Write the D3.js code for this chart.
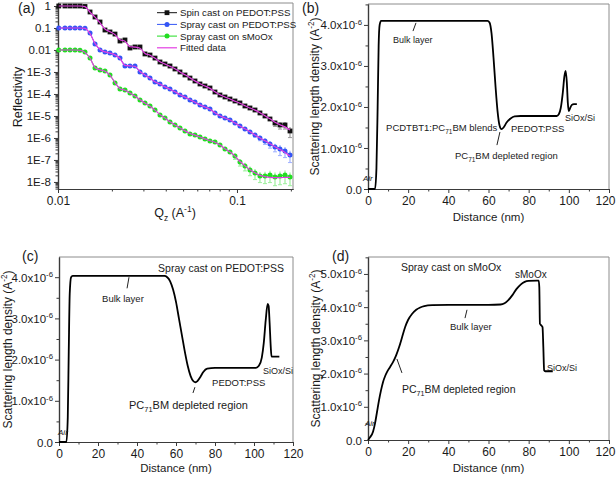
<!DOCTYPE html>
<html><head><meta charset="utf-8">
<script src="https://cdn.jsdelivr.net/npm/d3@7"></script>
<style>
body{margin:0;background:#fff}
svg{display:block}
text{font-family:"Liberation Sans",Arial,Helvetica,sans-serif;fill:#1a1a1a}
</style>
</head><body>
<svg id="fig" width="616" height="477"></svg>
<script>
// ---------------- DATA: panel (a) reflectivity ----------------
const qz = [0.0101,0.01094,0.01167,0.01245,0.01327,0.01415,0.01510,0.01610,0.01717,0.01830,0.01952,0.02082,0.02220,0.02367,0.02525,0.02692,0.02871,0.03062,0.03266,0.03483,0.03714,0.03961,0.04224,0.04504,0.04804,0.05123,0.05463,0.05826,0.06213,0.06625,0.07066,0.07535,0.08035,0.08570,0.09140,0.09746,0.1039,0.1108,0.1182,0.1261,0.1344,0.1434,0.1529,0.1631,0.1739,0.1855,0.1978];
const spinPEDOT = [1,1,1,1,1,0.95,0.534,0.316,0.187,0.081,0.066,0.053,0.0256,0.0285,0.0123,0.0137,0.0137,0.0066,0.0059,0.0043,0.00285,0.00231,0.00187,0.00137,0.001,7.3e-4,5.3e-4,3.9e-4,2.85e-4,2.31e-4,1.87e-4,1.23e-4,9.0e-5,7.3e-5,5.9e-5,4.8e-5,3.9e-5,2.85e-5,2.31e-5,1.87e-5,1.37e-5,1.0e-5,7.3e-6,4.8e-6,3.9e-6,3.9e-6,2.08e-6];
const sprayPEDOT = [0.1,0.1,0.1,0.1,0.1,0.098,0.059,0.0187,0.01,0.0081,0.0073,0.0059,0.0043,0.00187,0.00187,0.00187,0.001,7.3e-4,5.3e-4,3.5e-4,2.85e-4,2.08e-4,1.69e-4,1.23e-4,9.0e-5,7.3e-5,5.3e-5,4.3e-5,3.16e-5,2.56e-5,2.08e-5,1.37e-5,1.0e-5,8.1e-6,6.6e-6,4.8e-6,3.5e-6,2.56e-6,1.87e-6,1.37e-6,1.0e-6,7.3e-7,5.3e-7,3.9e-7,3.16e-7,2.56e-7,1.69e-7];
const spraySMoOx = [0.01,0.01,0.01,0.01,0.0098,0.0081,0.0043,0.00152,0.00123,0.00111,7.3e-4,3.16e-4,1.69e-4,1.52e-4,1.11e-4,8.1e-5,5.3e-5,3.9e-5,2.85e-5,1.87e-5,1.11e-5,8.1e-6,5.3e-6,3.9e-6,2.85e-6,2.08e-6,1.52e-6,1.37e-6,1.11e-6,9.0e-7,7.3e-7,6.6e-7,4.8e-7,3.16e-7,2.31e-7,1.52e-7,8.1e-8,5.3e-8,3.5e-8,2.56e-8,1.87e-8,1.87e-8,2.08e-8,1.69e-8,1.87e-8,2.08e-8,1.69e-8];
const fitSpin = [1,1,1,1,1,0.93,0.52,0.31,0.17,0.09,0.068,0.05,0.029,0.025,0.014,0.0135,0.012,0.007,0.0058,0.0042,0.0029,0.0023,0.0018,0.0014,0.001,7.4e-4,5.4e-4,3.9e-4,2.9e-4,2.3e-4,1.8e-4,1.25e-4,9.2e-5,7.3e-5,5.9e-5,4.7e-5,3.8e-5,2.9e-5,2.3e-5,1.85e-5,1.4e-5,1.02e-5,7.4e-6,5.2e-6,4.0e-6,3.2e-6,2.3e-6];
const fitSprayP = [0.1,0.1,0.1,0.1,0.1,0.096,0.055,0.02,0.0105,0.0082,0.0072,0.006,0.0041,0.002,0.0019,0.0018,0.00105,7.3e-4,5.2e-4,3.6e-4,2.8e-4,2.1e-4,1.65e-4,1.25e-4,9.2e-5,7.2e-5,5.5e-5,4.2e-5,3.2e-5,2.55e-5,2.0e-5,1.4e-5,1.02e-5,8.1e-6,6.5e-6,4.8e-6,3.5e-6,2.6e-6,1.9e-6,1.38e-6,1.0e-6,7.4e-7,5.4e-7,4.0e-7,3.0e-7,2.2e-7,1.5e-7];
const fitSprayM = [0.01,0.01,0.01,0.01,0.0097,0.0078,0.0042,0.0016,0.00125,0.00108,7.2e-4,3.3e-4,1.75e-4,1.48e-4,1.1e-4,8.0e-5,5.4e-5,3.9e-5,2.8e-5,1.85e-5,1.15e-5,8.0e-6,5.4e-6,3.9e-6,2.85e-6,2.1e-6,1.6e-6,1.35e-6,1.1e-6,9.1e-7,7.5e-7,6.4e-7,4.8e-7,3.2e-7,2.3e-7,1.5e-7,8.5e-8,5.5e-8,3.6e-8,2.6e-8,2.0e-8,1.75e-8,1.62e-8,1.58e-8,1.58e-8,1.6e-8,1.62e-8];
// relative error bars on the last points of each series
const spinErrTail = [0.3,0.35,0.35,0.5];
const sprayPErrTail = [0.2,0.25,0.3,0.35,0.4,0.5,0.5,0.55];
const sprayMErrTail = [0.3,0.35,0.4,0.45,0.5,0.5,0.55,0.55,0.6,0.6,0.6,0.6];
const legendA = ["Spin cast on PEDOT:PSS","Spray cast on PEDOT:PSS","Spray cast on sMoOx","Fitted data"];
const yTicksA = [1,0.1,0.01,1e-3,1e-4,1e-5,1e-6,1e-7,1e-8];
const yTickLabelsA = ["1","0.1","0.01","1E-3","1E-4","1E-5","1E-6","1E-7","1E-8"];
const xTicksA = [0.01,0.1];
const xTickLabelsA = ["0.01","0.1"];

// ---------------- DATA: SLD profiles (units of 1e-6 A^-2) ----------------
const distB = [0,3.5,4.2,4.8,5.3,5.8,6.5,20,40,59.5,60.5,61.5,62.5,63.5,64.5,65.5,66.5,67.5,69,71,73,76,85,94,95,96,97,97.8,98.4,99,99.5,100,100.7,101.5,102.5,104];
const sldB  = [0,0,0.5,2.0,3.5,4.0,4.1,4.1,4.1,4.1,4.06,3.8,3.2,2.5,1.9,1.55,1.46,1.5,1.62,1.72,1.77,1.78,1.78,1.78,1.82,1.98,2.35,2.75,2.88,2.6,2.1,1.9,1.98,2.05,2.07,2.07];
const distC = [0,3.8,4.5,5.0,5.5,6.2,7,30,54,55.5,57,58.5,60,61.5,63,64.5,66,67.5,69,70,71,72.5,74,76,80,90,101,102.5,104,105,106,107,107.5,108,108.6,109,110,113];
const sldC  = [0,0,0.6,2.2,3.6,4.0,4.03,4.03,4.03,4.0,3.9,3.7,3.4,3.0,2.6,2.2,1.85,1.6,1.47,1.45,1.48,1.58,1.7,1.78,1.8,1.8,1.8,1.85,2.05,2.4,2.95,3.35,3.3,2.9,2.3,2.07,2.07,2.07];
const distD = [0,1,2.5,3.5,4.5,5.5,6.5,7.5,8.5,9.5,11,12.5,14,15.5,17,18.5,20,22,24,26,28,32,40,50,60,66,68,70,72,74,76,78,80,84,85,85.3,85.6,86.3,86.9,87.3,87.7,88.2,92];
const sldD  = [0,0.08,0.25,0.5,0.85,1.2,1.5,1.75,1.92,2.05,2.2,2.35,2.55,2.8,3.1,3.4,3.62,3.8,3.92,3.99,4.03,4.06,4.07,4.07,4.07,4.08,4.12,4.22,4.37,4.55,4.68,4.76,4.79,4.8,4.8,4.6,3.5,3.45,3.4,2.8,2.1,2.07,2.07];
const xTicksSLD = [0,20,40,60,80,100,120];

// ---------------- helpers ----------------
const svg = d3.select("#fig");
const AX = "#3a3a3a", FR = "#8c8c8c";

function rich(sel, parts, fs){
  let cur = 0;
  parts.forEach(p => {
    const t = typeof p === "string" ? [p,""] : p;
    const target = t[1]==="sup" ? -fs*0.42 : t[1]==="sub" ? fs*0.28 : 0;
    const ts = sel.append("tspan").text(t[0]);
    if (target !== cur) ts.attr("dy", target - cur);
    if (t[1]) ts.attr("font-size", fs*0.68);
    cur = target;
  });
  return sel;
}
function label(g, x, y, parts, fs, opts={}){
  const t = g.append("text").attr("x",x).attr("y",y).attr("font-size",fs)
    .attr("text-anchor", opts.anchor||"start");
  if (opts.rotate) t.attr("transform",`rotate(-90,${x},${y})`);
  if (opts.style) t.attr("font-style",opts.style);
  return rich(t, parts, fs);
}
function frame(g, x, y){
  const [x0,x1] = x.range(), [y0,y1] = y.range();
  g.append("line").attr("x1",x0).attr("x2",x1).attr("y1",y1).attr("y2",y1).attr("stroke",FR).attr("stroke-width",1);
  g.append("line").attr("x1",x1).attr("x2",x1).attr("y1",y1).attr("y2",y0).attr("stroke",FR).attr("stroke-width",1);
}
function styleAxis(sel, fs){
  sel.select(".domain").attr("stroke",AX).attr("stroke-width",1.2);
  sel.selectAll(".tick line").attr("stroke",AX);
  sel.selectAll(".tick text").attr("font-size",fs).attr("fill","#1a1a1a")
     .attr("font-family",'"Liberation Sans",Arial,sans-serif');
}

// ================= PANEL (a) =================
(function(){
  const g = svg.append("g");
  const x = d3.scaleLog().domain([0.01, 0.2056]).range([58, 293]);
  const y = d3.scaleLog().domain([Math.pow(10,-8.32), Math.pow(10,0.136)]).range([189, 3]);
  frame(g, x, y);
  const minorX = [];
  [0.01,0.1].forEach(d => { for (let k=2;k<=9;k++){ const v=d*k; if (v<=0.2056) minorX.push(v);} });
  g.append("g").attr("transform","translate(0,189)")
    .call(d3.axisBottom(x).tickValues(minorX).tickSize(2.5).tickSizeOuter(0).tickFormat(""))
    .call(s=>styleAxis(s,12));
  const minorY = [];
  for (let e=-9;e<=0;e++){ for (let k=2;k<=9;k++){ const v=k*Math.pow(10,e); if (v>=Math.pow(10,-8.32) && v<=1) minorY.push(v);} }
  g.append("g").attr("transform","translate(58,0)")
    .call(d3.axisLeft(y).tickValues(minorY).tickSize(2.5).tickSizeOuter(0).tickFormat(""))
    .call(s=>styleAxis(s,12));
  g.append("g").attr("transform","translate(0,189)")
    .call(d3.axisBottom(x).tickValues(xTicksA).tickSize(4).tickSizeOuter(0)
      .tickFormat((d,i)=>xTickLabelsA[i]))
    .call(s=>styleAxis(s,12));
  g.append("g").attr("transform","translate(58,0)")
    .call(d3.axisLeft(y).tickValues(yTicksA).tickSize(4).tickSizeOuter(0)
      .tickFormat((d,i)=>yTickLabelsA[i]))
    .call(s=>styleAxis(s,11.5));

  const series = [
    {v: spraySMoOx, fit: fitSprayM, err: sprayMErrTail, c:"#22dd22", ec:"#9cf09c", m:"circle"},
    {v: sprayPEDOT, fit: fitSprayP, err: sprayPErrTail, c:"#3355f5", ec:"#9fb0ff", m:"circle"},
    {v: spinPEDOT,  fit: fitSpin,   err: spinErrTail,   c:"#111111", ec:"#9a9a9a", m:"square"}
  ];
  const line = d3.line().x(d=>x(d[0])).y(d=>y(d[1]));
  series.forEach(s => {
    const pts = qz.map((q,i)=>[q, s.v[i]]);
    const n0 = pts.length - s.err.length;
    s.err.forEach((e,j) => {
      const p = pts[n0+j];
      g.append("line").attr("x1",x(p[0])).attr("x2",x(p[0]))
        .attr("y1",y(p[1]*(1+e))).attr("y2",y(p[1]*(1-e)))
        .attr("stroke",s.ec).attr("stroke-width",1.2);
      g.append("line").attr("x1",x(p[0])-2).attr("x2",x(p[0])+2)
        .attr("y1",y(p[1]*(1-e))).attr("y2",y(p[1]*(1-e))).attr("stroke",s.ec);
    });
    g.append("path").datum(pts).attr("d",line).attr("fill","none").attr("stroke",s.c).attr("stroke-width",1);
    if (s.m==="square"){
      g.selectAll(null).data(pts).join("rect")
        .attr("x",d=>x(d[0])-2.4).attr("y",d=>y(d[1])-2.4).attr("width",4.8).attr("height",4.8).attr("fill",s.c);
    } else {
      g.selectAll(null).data(pts).join("circle")
        .attr("cx",d=>x(d[0])).attr("cy",d=>y(d[1])).attr("r",2.5).attr("fill",s.c);
    }
  });
  const fitLine = d3.line().x(d=>x(d[0])).y(d=>y(d[1])).curve(d3.curveMonotoneX);
  series.forEach(s => {
    g.append("path").datum(qz.map((q,i)=>[q,s.fit[i]])).attr("d",fitLine)
      .attr("fill","none").attr("stroke","#e23ee2").attr("stroke-width",1.2);
  });
  const lg = [{c:"#111",m:"square"},{c:"#3355f5",m:"circle"},{c:"#22dd22",m:"circle"},{c:"#e23ee2",m:null}];
  const ly0 = 12.7, ldy = 11.7;
  lg.forEach((l,i)=>{
    const yy = ly0 + i*ldy;
    g.append("line").attr("x1",157).attr("x2",177).attr("y1",yy).attr("y2",yy)
      .attr("stroke",l.c).attr("stroke-width",i===3?1.2:1);
    if (l.m==="square") g.append("rect").attr("x",164.6).attr("y",yy-2.4).attr("width",4.8).attr("height",4.8).attr("fill",l.c);
    if (l.m==="circle") g.append("circle").attr("cx",167).attr("cy",yy).attr("r",2.5).attr("fill",l.c);
    label(g, 180, yy+3.4, [legendA[i]], 9.7);
  });
  label(g, 18, 12.5, ["(a)"], 14);
  label(g, 22, 97, ["Reflectivity"], 12.5, {anchor:"middle", rotate:true});
  label(g, 175, 217, [["Q",""],["z","sub"],[" (A",""],["-1","sup"],[")",""]], 12.5, {anchor:"middle"});
})();

// ================= SLD panels =================
function sldPanel(cfg){
  const g = svg.append("g");
  const x = d3.scaleLinear().domain([0,120]).range([cfg.left, cfg.right]);
  const y = d3.scaleLinear().domain([0,cfg.ymax]).range([cfg.bottom, cfg.top]);
  frame(g, x, y);
  const minorX = d3.range(10,120,20);
  const majorY = d3.range(0, Math.floor(cfg.ymax)+1);
  const minorY = d3.range(0.5, cfg.ymax, 1);
  g.append("g").attr("transform",`translate(0,${cfg.bottom})`)
    .call(d3.axisBottom(x).tickValues(minorX).tickSize(2.5).tickSizeOuter(0).tickFormat(""))
    .call(s=>styleAxis(s,12));
  g.append("g").attr("transform",`translate(${cfg.left},0)`)
    .call(d3.axisLeft(y).tickValues(minorY).tickSize(2.5).tickSizeOuter(0).tickFormat(""))
    .call(s=>styleAxis(s,12));
  const xa = g.append("g").attr("transform",`translate(0,${cfg.bottom})`)
    .call(d3.axisBottom(x).tickValues(xTicksSLD).tickSize(4).tickSizeOuter(0).tickFormat(d3.format("d")))
    .call(s=>styleAxis(s,12));
  // keep the last tick label inside the canvas
  xa.selectAll(".tick text").filter(d=>d===120 && cfg.right>600).attr("dx",-4);
  const ya = g.append("g").attr("transform",`translate(${cfg.left},0)`)
    .call(d3.axisLeft(y).tickValues(majorY).tickSize(4).tickSizeOuter(0).tickFormat(""))
    .call(s=>styleAxis(s,11.5));
  ya.selectAll(".tick").each(function(d){
    const t = d3.select(this).append("text").attr("x",-6).attr("dy","0.35em")
      .attr("text-anchor","end").attr("font-size",11.5).attr("fill","#1a1a1a");
    if (d===0) rich(t, ["0.0"], 11.5);
    else rich(t, [[d.toFixed(1)+"x10",""],["-6","sup"]], 11.5);
  });
  const line = d3.line().x(d=>x(d[0])).y(d=>y(d[1])).curve(d3.curveMonotoneX);
  g.append("path").datum(cfg.dist.map((v,i)=>[v,cfg.sld[i]])).attr("d",line)
    .attr("fill","none").attr("stroke","#000").attr("stroke-width",1.8);
  cfg.notes.forEach(n => {
    label(g, x(n.at[0]), y(n.at[1]), n.parts, n.fs, {style:n.style});
  });
  cfg.leaders.forEach(l => {
    g.append("line").attr("x1",x(l[0])).attr("y1",y(l[1])).attr("x2",x(l[2])).attr("y2",y(l[3]))
      .attr("stroke","#222").attr("stroke-width",1);
  });
  label(g, cfg.panelLab[0], cfg.panelLab[1], [cfg.tag], 14);
  const yc = (cfg.top+cfg.bottom)/2, xc = (cfg.left+cfg.right)/2;
  label(g, cfg.ytx, yc, [["Scattering length density (A",""],["-2","sup"],[")",""]], 12, {anchor:"middle", rotate:true});
  label(g, xc, cfg.xty, ["Distance (nm)"], 11.5, {anchor:"middle"});
}

const PC71 = (txt)=>[["PC",""],["71","sub"],[txt,""]];
sldPanel({tag:"(b)", left:368, right:609, top:4, bottom:189, ymax:4.51,
  dist:distB, sld:sldB, panelLab:[302,13], ytx:319, xty:221,
  notes:[
    {at:[12.4,3.56], parts:["Bulk layer"], fs:9},
    {at:[9.0,1.41], parts:[["PCDTBT1:PC",""],["71","sub"],["BM blends",""]], fs:9.5},
    {at:[71.2,1.40], parts:["PEDOT:PSS"], fs:9.5},
    {at:[43.3,0.73], parts:PC71("BM depleted region"), fs:9.5},
    {at:[98.1,1.65], parts:["SiOx/Si"], fs:9},
    {at:[-2.5,0.2], parts:["Air"], fs:8, style:"italic"}
  ],
  leaders:[[22.4,3.85,23.9,4.05],[65.7,1.39,64.2,1.07]]
});
sldPanel({tag:"(c)", left:59, right:293, top:257, bottom:442, ymax:4.49,
  dist:distC, sld:sldC, panelLab:[22,261], ytx:12, xty:472,
  notes:[
    {at:[50.8,4.12], parts:["Spray cast on PEDOT:PSS"], fs:10.5},
    {at:[22.1,3.39], parts:["Bulk layer"], fs:9.5},
    {at:[35.9,0.8], parts:PC71("BM depleted region"), fs:11},
    {at:[78.5,1.37], parts:["PEDOT:PSS"], fs:9.5},
    {at:[104.6,1.65], parts:["SiOx/Si"], fs:9},
    {at:[-0.5,0.17], parts:["Air"], fs:8, style:"italic"}
  ],
  leaders:[[35.9,4.0,34.9,3.73],[69.7,1.33,68.7,1.19]]
});
sldPanel({tag:"(d)", left:368, right:609, top:257, bottom:440, ymax:5.51,
  dist:distD, sld:sldD, panelLab:[332,261], ytx:320, xty:472,
  notes:[
    {at:[16.4,5.09], parts:["Spray cast on sMoOx"], fs:10.5},
    {at:[73.2,4.89], parts:["sMoOx"], fs:10},
    {at:[40.8,3.30], parts:["Bulk layer"], fs:9.5},
    {at:[16.9,1.42], parts:PC71("BM depleted region"), fs:10.5},
    {at:[89.1,2.09], parts:["SiOx/Si"], fs:9},
    {at:[-1.5,0.42], parts:["Air"], fs:8, style:"italic"}
  ],
  leaders:[[49.3,3.92,48.3,3.67],[14.4,2.44,16.9,2.02]]
});
</script>
</body></html>
